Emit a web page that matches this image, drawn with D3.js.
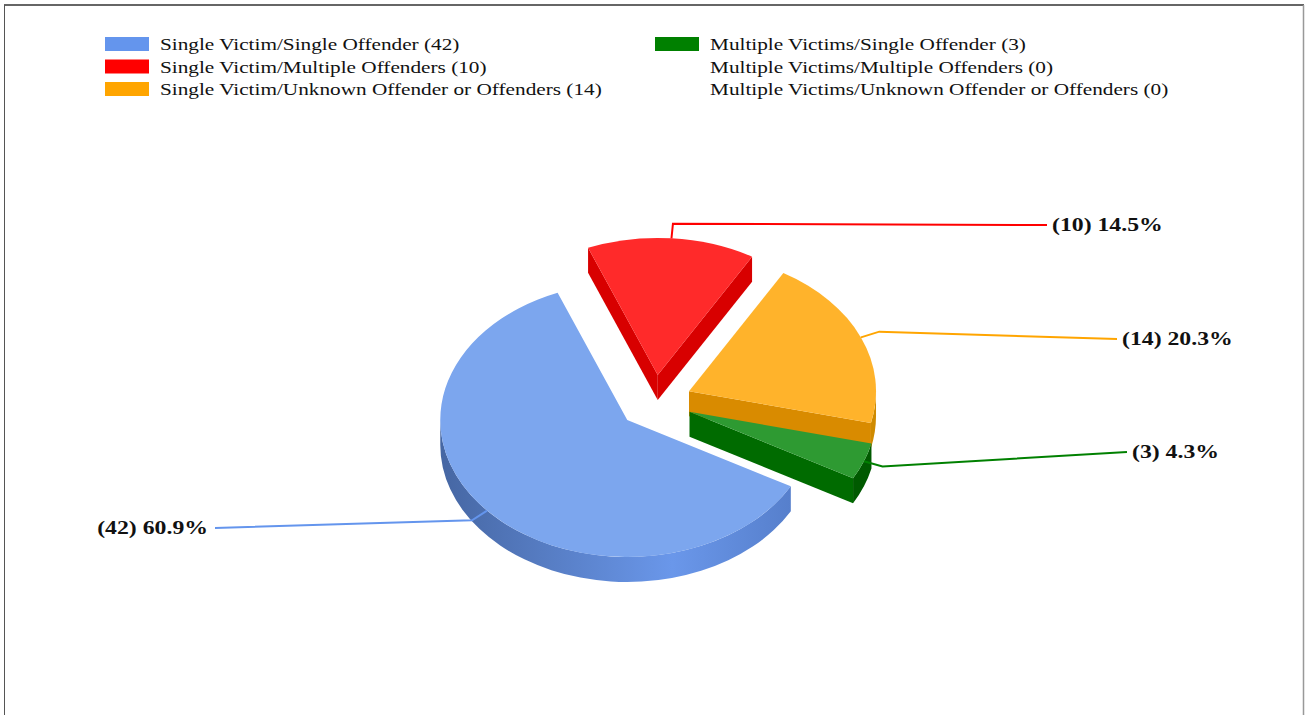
<!DOCTYPE html>
<html>
<head>
<meta charset="utf-8">
<script src="https://cdn.jsdelivr.net/npm/d3@7"></script>
<style>
  body { margin: 0; background: #fff; }
  svg { display: block; }
  text { font-family: "Liberation Serif", "Times New Roman", serif; fill: #111; }
</style>
</head>
<body>
<main></main>
<script>
var width = 1306;
var height = 715;

// data
var categories = [
  "Single Victim/Single Offender",
  "Single Victim/Multiple Offenders",
  "Single Victim/Unknown Offender or Offenders",
  "Multiple Victims/Single Offender",
  "Multiple Victims/Multiple Offenders",
  "Multiple Victims/Unknown Offender or Offenders"
];
var counts = [42, 10, 14, 3, 0, 0];

// look
var legendColors = ["#6495ED", "#FF0000", "#FFA500", "#008000", "#8B0000", "#800080"];
var topColors    = ["#7ca6ee", "#ff2a2a", "#ffb32b", "#2e9a32", "#a01010", "#902090"];
var faceColors   = ["#4f77c4", "#d80000", "#d98b00", "#006b00", "#700000", "#600060"];
var wallColors   = ["url(#blueWall)", "#c40000", "#cf8a00", "#005a00", "#600000", "#500050"];

// callout line ends (left one is right-aligned text)
var calloutEnds = [[215, 528], [1047, 225], [1117, 339], [1127, 452]];

var cx = 655, cy = 402, rx = 187, ry = 137, depth = 25, explode = 37;
var startDeg = 119;
var textStretch = 1.25;

var svg = d3.select("main").append("svg")
    .attr("width", width)
    .attr("height", height);

var defs = svg.append("defs");
var grad = defs.append("linearGradient")
    .attr("id", "blueWall")
    .attr("gradientUnits", "userSpaceOnUse")
    .attr("x1", cx - rx - 40).attr("x2", cx + rx - 20)
    .attr("y1", 0).attr("y2", 0);
grad.append("stop").attr("offset", "0%").attr("stop-color", "#44649f");
grad.append("stop").attr("offset", "62%").attr("stop-color", "#6a97ea");
grad.append("stop").attr("offset", "100%").attr("stop-color", "#5179c4");

// frame
svg.append("line").attr("x1", 4).attr("x2", 1304).attr("y1", 5).attr("y2", 5)
    .style("stroke", "#333").style("stroke-width", 1.5);
svg.append("line").attr("x1", 4.5).attr("x2", 4.5).attr("y1", 5).attr("y2", height)
    .style("stroke", "#555").style("stroke-width", 1);
svg.append("line").attr("x1", 1303.5).attr("x2", 1303.5).attr("y1", 5).attr("y2", height)
    .style("stroke", "#999").style("stroke-width", 1.5);

// legend
var legend = svg.append("g").attr("class", "legend");
categories.forEach(function(cat, i) {
  var col = Math.floor(i / 3), row = i % 3;
  var x = 105 + col * 550, y = 37 + row * 22.5;
  if (counts[i] > 0) {
    legend.append("rect")
        .attr("x", x).attr("y", y)
        .attr("width", 44).attr("height", 14)
        .style("fill", legendColors[i]);
  }
  legend.append("g")
      .attr("transform", "translate(" + (x + 55) + "," + (y + 13) + ") scale(" + textStretch + ",1)")
    .append("text")
      .style("font-size", "17px")
      .text(cat + " (" + counts[i] + ")");
});

// pie
var total = d3.sum(counts);
var a0 = startDeg * Math.PI / 180;
var pie = d3.pie().sort(null).value(function(d) { return d; })
    .startAngle(a0).endAngle(a0 + 2 * Math.PI);
var arcs = pie(counts).map(function(d, i) {
  d.index = i;
  d.mid = (d.startAngle + d.endAngle) / 2;
  d.c = [cx + explode * Math.sin(d.mid), cy - explode * (ry / rx) * Math.cos(d.mid)];
  return d;
}).filter(function(d) { return d.value > 0; });

function pt(c, a, dx, dy) {
  return [c[0] + dx * Math.sin(a), c[1] - dy * Math.cos(a)];
}
function down(p) { return [p[0], p[1] + depth]; }

function topPath(d) {
  var p0 = pt(d.c, d.startAngle, rx, ry), p1 = pt(d.c, d.endAngle, rx, ry);
  var large = d.endAngle - d.startAngle > Math.PI ? 1 : 0;
  return "M" + d.c + "L" + p0 + "A" + rx + "," + ry + " 0 " + large + " 1 " + p1 + "Z";
}
function wallPaths(d) {
  var out = [];
  [0, 2 * Math.PI].forEach(function(k) {
    var lo = Math.max(d.startAngle, Math.PI / 2 + k);
    var hi = Math.min(d.endAngle, 3 * Math.PI / 2 + k);
    if (hi > lo) {
      var p0 = pt(d.c, lo, rx, ry), p1 = pt(d.c, hi, rx, ry);
      out.push("M" + p0 + "A" + rx + "," + ry + " 0 0 1 " + p1 +
        "L" + down(p1) + "A" + rx + "," + ry + " 0 0 0 " + down(p0) + "Z");
    }
  });
  return out;
}
function facePath(d, a) {
  var p = pt(d.c, a, rx, ry);
  return "M" + d.c + "L" + p + "L" + down(p) + "L" + down(d.c) + "Z";
}

var order = arcs.slice().sort(function(a, b) {
  return (-Math.cos(a.mid)) - (-Math.cos(b.mid));
});

var slices = svg.append("g").attr("class", "slices");
order.forEach(function(d) {
  var g = slices.append("g");
  if (Math.sin(d.startAngle) < 0) {
    g.append("path").attr("d", facePath(d, d.startAngle)).style("fill", faceColors[d.index]);
  }
  if (Math.sin(d.endAngle) > 0) {
    g.append("path").attr("d", facePath(d, d.endAngle)).style("fill", faceColors[d.index]);
  }
  wallPaths(d).forEach(function(p) {
    g.append("path").attr("d", p).style("fill", wallColors[d.index]);
  });
  g.append("path").attr("d", topPath(d)).style("fill", topColors[d.index]);
});

// callouts
var fmt = d3.format(".1f");
var callouts = svg.append("g").attr("class", "callouts");
arcs.forEach(function(d) {
  var end = calloutEnds[d.index];
  var anchor = pt(d.c, d.mid, rx, ry);
  var elbow = pt(d.c, d.mid, rx + 20, ry + 20 * ry / rx);
  callouts.append("path")
      .attr("d", d3.line()([anchor, elbow, end]))
      .style("fill", "none")
      .style("stroke", legendColors[d.index])
      .style("stroke-width", 2);
  var left = end[0] < cx;
  callouts.append("g")
      .attr("transform", "translate(" + (end[0] + (left ? -7 : 5)) + "," + (end[1] + 6) + ") scale(" + textStretch + ",1)")
    .append("text")
      .attr("text-anchor", left ? "end" : "start")
      .style("font-size", "19px")
      .style("font-weight", "bold")
      .text("(" + d.value + ") " + fmt(d.value / total * 100) + "%");
});
</script>
</body>
</html>
